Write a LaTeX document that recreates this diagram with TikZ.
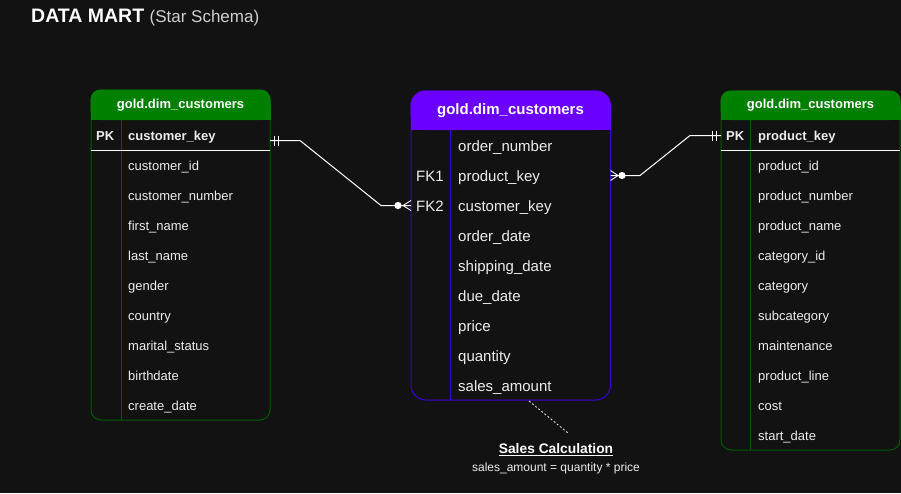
\documentclass[tikz,border=0pt]{standalone}
\usepackage{fontspec}
\setmainfont{Liberation Sans}
\definecolor{bg}{HTML}{121212}
\definecolor{hgreen}{HTML}{008000}
\definecolor{bgreen}{HTML}{005C00}
\definecolor{hpurple}{HTML}{6A00FF}
\definecolor{bpurple}{HTML}{3D00D6}
\definecolor{txt}{HTML}{EDEDED}
\definecolor{sub}{HTML}{CFCFCF}
\tikzset{
  rowtxt/.style={anchor=base west, inner sep=0pt, text=txt, font=\fontsize{13}{15}\selectfont},
  rowbig/.style={anchor=base west, inner sep=0pt, text=txt, font=\fontsize{15}{17}\selectfont},
  hdr/.style={inner sep=0pt, text=white, font=\fontsize{13}{15}\selectfont\bfseries},
  hdrbig/.style={inner sep=0pt, text=white, font=\fontsize{15}{17}\selectfont\bfseries},
  conn/.style={draw=white, line width=1pt},
}
\begin{document}
\begin{tikzpicture}[x=1pt,y=-1pt]
\fill[bg] (0,0) rectangle (901,493);
\useasboundingbox (0,0) rectangle (901,493);
% title
\node[anchor=base west, inner sep=0pt, text=white] (title) at (31,22.5)
  {\fontsize{19.5}{22}\selectfont\bfseries DATA MART\ \fontsize{17}{19}\selectfont\mdseries\textcolor{sub}{(Star Schema)}};

% ---------- left table ----------
\draw[bgreen, line width=1pt, rounded corners=10pt] (91,90) rectangle (270,420);
\fill[hgreen, rounded corners=10pt] (90.5,89.5) rectangle (270.5,120);
\fill[hgreen] (90.5,105) rectangle (270.5,120);
\draw[bgreen, line width=1pt] (121,120) -- (121,420);
\draw[white, line width=1pt] (91,150.5) -- (270,150.5);
\node[hdr] (Lh) at (180.5,105.5) {gold.dim\_customers};
\node[rowtxt, font=\fontsize{13}{15}\selectfont\bfseries] (Lpk) at (96,140) {PK};
\node[rowtxt, font=\fontsize{13}{15}\selectfont\bfseries] (L0) at (128,140) {customer\_key};
\foreach \t [count=\i] in {customer\_id,customer\_number,first\_name,last\_name,gender,country,marital\_status,birthdate,create\_date}
  \node[rowtxt] (L\i) at (128,140+30*\i) {\t};

% ---------- center table ----------
\draw[bpurple, line width=1pt, rounded corners=15pt] (411,91) rectangle (610.5,400);
\fill[hpurple, rounded corners=15pt] (410.5,90.5) rectangle (611,130);
\fill[hpurple] (410.5,110) rectangle (611,130);
\draw[bpurple, line width=1pt] (450.5,130) -- (450.5,400);
\node[hdrbig] (Ch) at (510.5,111) {gold.dim\_customers};
\node[rowbig] (Cfk1) at (416,181.5) {FK1};
\node[rowbig] (Cfk2) at (416,211.5) {FK2};
\foreach \t [count=\i from 0] in {order\_number,product\_key,customer\_key,order\_date,shipping\_date,due\_date,price,quantity,sales\_amount}
  \node[rowbig] (C\i) at (458,151.5+30*\i) {\t};

% ---------- right table ----------
\draw[bgreen, line width=1pt, rounded corners=10pt] (721,91) rectangle (900,450);
\fill[hgreen, rounded corners=10pt] (720.5,90.5) rectangle (900.5,120);
\fill[hgreen] (720.5,105) rectangle (900.5,120);
\draw[bgreen, line width=1pt] (750.5,120) -- (750.5,450);
\draw[white, line width=1pt] (721,150.5) -- (900,150.5);
\node[hdr] (Rh) at (810.5,105.5) {gold.dim\_customers};
\node[rowtxt, font=\fontsize{13}{15}\selectfont\bfseries] (Rpk) at (726,140) {PK};
\node[rowtxt, font=\fontsize{13}{15}\selectfont\bfseries] (R0) at (758,140) {product\_key};
\foreach \t [count=\i] in {product\_id,product\_number,product\_name,category\_id,category,subcategory,maintenance,product\_line,cost,start\_date}
  \node[rowtxt] (R\i) at (758,140+30*\i) {\t};

% ---------- connectors ----------
\coordinate (Lend) at (270,140.5);
\coordinate (Lbend1) at (300,140.5);
\coordinate (Lbend2) at (381,205.5);
\coordinate (Cin) at (411,205.5);
\draw[conn] (Lend) -- (Lbend1) -- (Lbend2) -- (Cin);
\draw[conn] (274,135.5) -- (274,145.5);
\draw[conn] (278,135.5) -- (278,145.5);
\fill[white] (398,205.5) circle (3.6pt);
\draw[white, line width=0.9pt] (411,200.5) -- (403,205.5) -- (411,210.5);

\coordinate (Cout) at (610.5,175.5);
\coordinate (Rbend1) at (640,175.5);
\coordinate (Rbend2) at (690,135.5);
\coordinate (Rin) at (721,135.5);
\draw[conn] (Cout) -- (Rbend1) -- (Rbend2) -- (Rin);
\draw[conn] (712.5,130.5) -- (712.5,140.5);
\draw[conn] (716.5,130.5) -- (716.5,140.5);
\fill[white] (622,175.5) circle (3.6pt);
\draw[white, line width=0.9pt] (610.5,170.5) -- (618,175.5) -- (610.5,180.5);

% ---------- note ----------
\coordinate (Cnote) at (529,401);
\coordinate (Nend) at (568,433);
\draw[white!85!black, line width=0.9pt, dash pattern=on 2pt off 2pt] (Cnote) -- (Nend);
\node[anchor=base, inner sep=0pt, text=white, font=\fontsize{13.8}{16}\selectfont\bfseries] (N1) at (556,453) {Sales Calculation};
\draw[white, line width=1pt] (N1.base west) ++(0,2) -- ([yshift=-2pt]N1.base east);
\node[anchor=base, inner sep=0pt, text=txt, font=\fontsize{12}{14}\selectfont] (N2) at (556,471.5) {sales\_amount = quantity * price};
\end{tikzpicture}
\end{document}
